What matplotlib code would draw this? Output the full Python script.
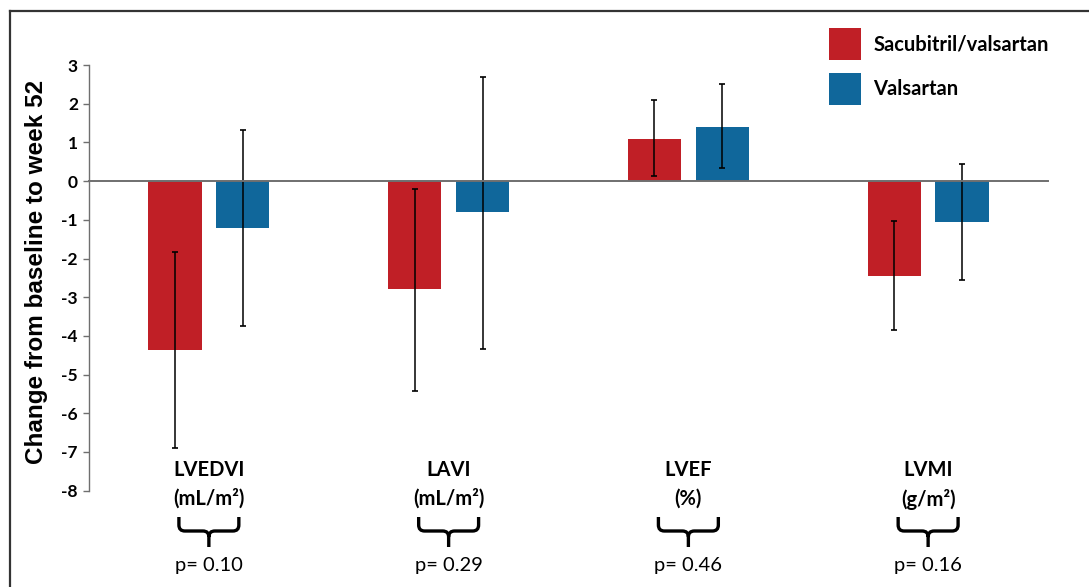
import matplotlib
matplotlib.use("Agg")

import matplotlib.pyplot as plt
import numpy as np
from matplotlib.path import Path
from matplotlib.patches import PathPatch, Patch
from matplotlib.lines import Line2D
from matplotlib.transforms import blended_transform_factory

plt.rcParams["axes.unicode_minus"] = False

# =========================
# data
# =========================
categories = ["LVEDVI", "LAVI", "LVEF", "LVMI"]
units = ["(mL/m²)", "(mL/m²)", "(%)", "(g/m²)"]
p_values = ["p= 0.10", "p= 0.29", "p= 0.46", "p= 0.16"]
series = ["Sacubitril/valsartan", "Valsartan"]

sv_mean = [-4.37, -2.80, 1.10, -2.46]
sv_upper = [-1.84, -0.20, 2.10, -1.02]
sv_lower = [-6.90, -5.42, 0.14, -3.84]

val_mean = [-1.22, -0.80, 1.41, -1.05]
val_upper = [1.31, 2.70, 2.50, 0.43]
val_lower = [-3.75, -4.33, 0.34, -2.56]

RED = "#C01F26"
BLUE = "#10679B"
FONT = "Lato"

W, H = 1089, 587
fig = plt.figure(figsize=(W / 100, H / 100), dpi=100)
ax = fig.add_axes([89 / W, 1 - 490.7 / H, (1048 - 89) / W, (490.7 - 65) / H])

x = np.arange(len(categories))
off = 0.1417
width = 0.222

sv_mean = np.array(sv_mean)
val_mean = np.array(val_mean)
sv_err = [sv_mean - np.array(sv_lower), np.array(sv_upper) - sv_mean]
val_err = [val_mean - np.array(val_lower), np.array(val_upper) - val_mean]

ax.bar(x - off, sv_mean, width, color=RED, zorder=2, label=series[0])
ax.bar(x + off, val_mean, width, color=BLUE, zorder=2, label=series[1])
for xs, m, e in [(x - off, sv_mean, sv_err), (x + off, val_mean, val_err)]:
    ax.errorbar(xs, m, yerr=e, fmt="none", ecolor="black", elinewidth=1.1,
                capsize=2.3, capthick=1.2, zorder=3)

# =========================
# axes
# =========================
ax.set_xlim(-0.5, 3.5)
ax.set_ylim(-8, 3)
ax.set_yticks(np.arange(-8, 4))
ax.set_xticks([])
for s in ["top", "right"]:
    ax.spines[s].set_visible(False)
ax.spines["left"].set_color("#6f6f6f")
ax.spines["left"].set_linewidth(1.0)
ax.spines["bottom"].set_position(("data", 0))
ax.spines["bottom"].set_color("#6f6f6f")
ax.spines["bottom"].set_linewidth(1.4)
ax.spines["bottom"].set_zorder(4)
ax.tick_params(axis="y", length=4, width=1, color="#6f6f6f", pad=4,
               labelsize=12.5)
for lab in ax.get_yticklabels():
    lab.set_fontfamily(FONT)
    lab.set_fontweight("bold")

fig.text(37 / W, 1 - 272 / H, "Change from baseline to week 52",
         rotation=90, ha="center", va="center", fontsize=17.5,
         fontweight="bold", family="Liberation Sans")

# =========================
# legend
# =========================
handles = [Patch(facecolor=RED), Patch(facecolor=BLUE)]
fig.legend(handles, series, loc="upper left",
           bbox_to_anchor=(829 / W, 1 - 28 / H), frameon=False,
           borderpad=0, borderaxespad=0, handlelength=1.6,
           handleheight=2.1, handletextpad=0.6, labelspacing=0.6,
           prop={"family": FONT, "weight": "bold", "size": 14.5})

# =========================
# category labels, braces, p values
# =========================
trans = blended_transform_factory(ax.transData, fig.transFigure)
hw, r = 30 / 240, 6 / 240
yt, ym, yb, ry = 1 - 517 / H, 1 - 531 / H, 1 - 547 / H, 6 / H
for i, xc in enumerate(x):
    ax.text(xc, 1 - 470 / H, categories[i], transform=trans, ha="center",
            va="center", fontsize=14.5, fontweight="bold", family=FONT,
            clip_on=False)
    ax.text(xc, 1 - 499 / H, units[i], transform=trans, ha="center",
            va="center", fontsize=14.5, fontweight="bold", family=FONT,
            clip_on=False)
    verts = [
        (xc - hw, yt), (xc - hw, ym + ry), (xc - hw, ym), (xc - hw + r, ym),
        (xc - r, ym), (xc, ym), (xc, ym - ry), (xc, yb),
        (xc + hw, yt), (xc + hw, ym + ry), (xc + hw, ym), (xc + hw - r, ym),
        (xc + r, ym), (xc, ym), (xc, ym - ry),
    ]
    codes = [
        Path.MOVETO, Path.LINETO, Path.CURVE3, Path.CURVE3,
        Path.LINETO, Path.CURVE3, Path.CURVE3, Path.LINETO,
        Path.MOVETO, Path.LINETO, Path.CURVE3, Path.CURVE3,
        Path.LINETO, Path.CURVE3, Path.CURVE3,
    ]
    brace = PathPatch(Path(verts, codes), transform=trans, fill=False,
                      lw=2.4, edgecolor="black", capstyle="butt",
                      clip_on=False)
    ax.add_patch(brace)
    ax.text(xc, 1 - 565 / H, p_values[i], transform=trans, ha="center",
            va="center", fontsize=14.5, family=FONT, clip_on=False)

# frame around the figure
fig.add_artist(Line2D([10 / W, 10 / W], [0, 1 - 11 / H], color="#333333",
                      lw=1.6, transform=fig.transFigure))
fig.add_artist(Line2D([10 / W, 1], [1 - 11 / H, 1 - 11 / H], color="#333333",
                      lw=1.6, transform=fig.transFigure))

fig.savefig("out.png", dpi=100)
plt.close(fig)
